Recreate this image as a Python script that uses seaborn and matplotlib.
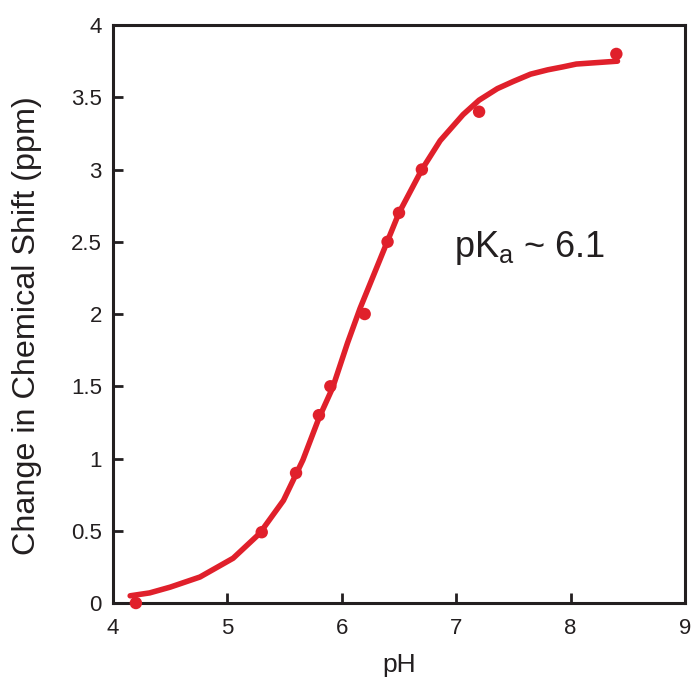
import matplotlib
matplotlib.use("Agg")
import matplotlib.pyplot as plt
import seaborn as sns
import pandas as pd

# measured points
ph_points = [4.2, 5.3, 5.6, 5.8, 5.9, 6.2, 6.4, 6.5, 6.7, 7.2, 8.4]
shift_points = [0.0, 0.49, 0.9, 1.3, 1.5, 2.0, 2.5, 2.7, 3.0, 3.4, 3.8]

# fitted titration curve
ph_fit = [4.15, 4.32, 4.5, 4.76, 5.05, 5.28, 5.49, 5.66, 5.8, 5.92, 6.05, 6.16,
          6.33, 6.5, 6.7, 6.86, 7.06, 7.2, 7.36, 7.5, 7.65, 7.8, 7.93, 8.05,
          8.23, 8.41]
shift_fit = [0.05, 0.07, 0.11, 0.18, 0.31, 0.48, 0.71, 0.99, 1.28, 1.49, 1.8, 2.04,
             2.37, 2.7, 3.0, 3.2, 3.38, 3.48, 3.56, 3.61, 3.66, 3.69, 3.71, 3.73,
             3.74, 3.75]

x_ticks = [4, 5, 6, 7, 8, 9]
y_ticks = [0, 0.5, 1, 1.5, 2, 2.5, 3, 3.5, 4]

red = "#e0202b"
ink = "#231f20"

sns.set_style("ticks")
plt.rcParams["font.family"] = ["Liberation Sans", "DejaVu Sans"]
plt.rcParams["mathtext.fontset"] = "custom"
plt.rcParams["mathtext.rm"] = "Liberation Sans"

fit = pd.DataFrame({"pH": ph_fit, "shift": shift_fit})
pts = pd.DataFrame({"pH": ph_points, "shift": shift_points})

fig = plt.figure(figsize=(6.95, 6.82), dpi=100)
ax = fig.add_axes([0.1626, 0.1158, 0.8230, 0.8475])

sns.lineplot(data=fit, x="pH", y="shift", color=red, linewidth=4, ax=ax)
sns.scatterplot(data=pts, x="pH", y="shift", color=red, s=80, edgecolor="none",
                ax=ax, zorder=3, clip_on=False)

ax.set_xlim(4, 9)
ax.set_ylim(0, 4)
ax.set_xticks(x_ticks)
ax.set_yticks(y_ticks)
ax.set_xticklabels([f"{t:g}" for t in x_ticks])
ax.set_yticklabels([f"{t:g}" for t in y_ticks])
ax.tick_params(direction="in", length=7, width=2, labelsize=16, colors=ink)
ax.tick_params(axis="x", pad=11)
ax.tick_params(axis="y", pad=8)
for sp in ax.spines.values():
    sp.set_linewidth(2.2)
    sp.set_color(ink)

ax.set_xlabel("pH", fontsize=19, color=ink)
ax.set_ylabel("Change in Chemical Shift (ppm)", fontsize=23.3, color=ink)
ax.xaxis.set_label_coords(0.5, -0.087)
ax.yaxis.set_label_coords(-0.124, 0.48)

ax.text(6.98, 2.46, r"pK$_\mathregular{a}$ ~ 6.1", fontsize=26, color=ink,
        va="center", ha="left")

fig.savefig("out.png", dpi=100)
